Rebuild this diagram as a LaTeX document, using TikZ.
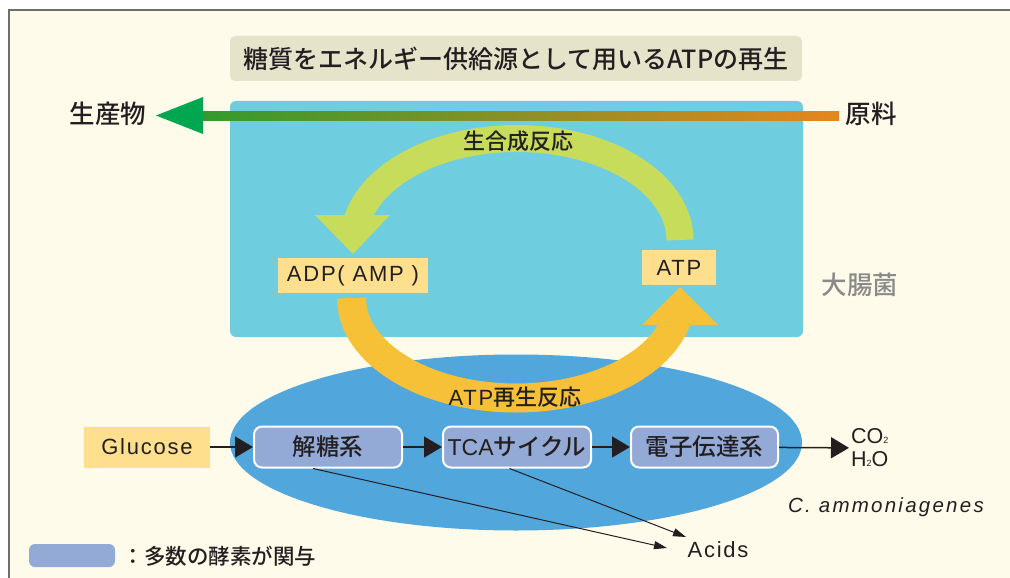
\documentclass[tikz,border=0pt]{standalone}
\usepackage{fontspec}
\setmainfont{Noto Sans CJK JP}[UprightFont={* Medium}]
\newfontfamily\lat[LetterSpace=8]{Liberation Sans}
\newfontfamily\latwide[LetterSpace=11]{Liberation Sans}
\newfontfamily\latplain{Liberation Sans}
\usetikzlibrary{arrows.meta,calc}
\definecolor{ink}{HTML}{231F20}
\definecolor{cream}{HTML}{FEFBEA}
\definecolor{framegray}{HTML}{6D6E71}
\definecolor{titlebg}{HTML}{E6E3CB}
\definecolor{cellblue}{HTML}{6FCDE0}
\definecolor{arcgreen}{HTML}{C8DC5B}
\definecolor{arcorange}{HTML}{F6C136}
\definecolor{ybox}{HTML}{FEDF8E}
\definecolor{ellblue}{HTML}{51A6DB}
\definecolor{enz}{HTML}{93AAD6}
\definecolor{headgreen}{HTML}{00A650}
\definecolor{bargreen}{HTML}{2E9B2E}
\definecolor{baryellow}{HTML}{E2DC00}
\definecolor{barorange}{HTML}{E5861E}
\definecolor{ecgray}{HTML}{8A8A8A}
\tikzset{
  every node/.style={text=ink},
  yellowbox/.style={fill=ybox, inner sep=0pt},
  enzbox/.style={fill=enz, draw=white, line width=2pt, rounded corners=8pt,
    minimum width=148pt, minimum height=41pt, inner sep=0pt,
    font=\fontsize{23.5}{26}\selectfont},
  jp/.style={font=\fontsize{#1}{#1}\selectfont},
  latin/.style={font=\lat\fontsize{#1}{#1}\selectfont},
  flow/.style={line width=1.5pt, draw=ink, -{Triangle[length=18pt,width=21pt]}},
  thin/.style={line width=1pt, draw=ink, -{Triangle[length=13pt,width=8pt]}},
}
\begin{document}
\begin{tikzpicture}[x=1pt,y=-1pt]
\useasboundingbox (0,0) rectangle (1010,578);
\fill[white] (0,0) rectangle (1010,578);
\fill[cream] (9,10) rectangle (1010,578);
\draw[framegray, line width=2pt] (9,578) -- (9,10) -- (1010,10);

% title
\node[fill=titlebg, rounded corners=5pt, minimum width=572pt, minimum height=45pt, inner sep=0pt, jp=25] (title) at (516,58.5) {糖質をエネルギー供給源として用いるATPの再生};

% cell
\fill[cellblue, rounded corners=6pt] (230,101) rectangle (803,337);
\node[jp=25.5, text=ecgray] (ecoli) at (860,285) {大腸菌};

% raw material -> product gradient arrow
\node[jp=25.5, anchor=east] (product) at (150,114) {生産物};
\node[jp=25.5, anchor=west] (raw) at (842,114) {原料};
\shade[left color=bargreen, middle color=baryellow, right color=barorange] (181,111) rectangle (839,120);
\fill[headgreen] (156,115.5) -- (203,97) -- (203,134) -- cycle;

% biosynthesis arc
\draw[arcgreen, line width=27pt] (517,240) ++(0:163 and 101.5)
  arc[start angle=0, end angle=-170, x radius=163, y radius=101.5];
\fill[arcgreen] (315,215) -- (390,215) -- (353,254) -- cycle;
\node[jp=22] (bio) at (518,141) {生合成反応};

% C. ammoniagenes ellipse
\fill[ellblue] (516,442.5) ellipse [x radius=286, y radius=88];

% ATP regeneration arc
\draw[arcorange, line width=29pt] (516,298) ++(180:164.5 and 100)
  arc[start angle=180, end angle=12, x radius=164.5, y radius=100];
\fill[arcorange] (642,325) -- (718,325) -- (680,287) -- cycle;
\node (regen) at (515,397) {{\lat\fontsize{22}{22}\selectfont ATP}{\fontsize{22}{22}\selectfont 再生反応}};

% ADP / ATP
\node[yellowbox, minimum width=150pt, minimum height=35pt, latin=22] (adp) at (353,275.5) {ADP( AMP )};
\node[yellowbox, minimum width=74pt, minimum height=35pt, latin=22] (atp) at (679,267.5) {ATP};

% pathway
\node[yellowbox, minimum width=126pt, minimum height=41pt, latin=22] (glu) at (147,447) {Glucose};
\node[enzbox] (gly) at (328,447) {解糖系};
\node[enzbox] (tca) at (517,447) {{\latplain\fontsize{23}{23}\selectfont TCA}サイクル};
\node[enzbox, minimum width=147pt] (etc) at (704.5,447) {電子伝達系};
\node[anchor=west, inner sep=2pt, align=left, font=\latplain\fontsize{21.5}{23}\selectfont] (out) at (849,448)
  {CO{\fontsize{9}{9}\selectfont 2}\\H{\fontsize{9}{9}\selectfont 2}O};
\draw[flow] (glu) -- (gly);
\draw[flow] (gly) -- (tca);
\draw[flow] (tca) -- (etc);
\draw[flow] (etc) -- (out);

% acids
\node[latin=22] (acids) at (718,550) {Acids};
\coordinate (t1) at (667,548);
\coordinate (t2) at (686,537);
\draw[thin] ($(gly.south west)!0.4!(gly.south east)$) -- (t1);
\draw[thin] ($(tca.south west)!0.45!(tca.south east)$) -- (t2);

\node[font=\latwide\fontsize{20.5}{20.5}\selectfont\itshape] (species) at (886,507) {C. ammoniagenes};

% legend
\node[fill=enz, rounded corners=6pt, minimum width=86pt, minimum height=23pt, inner sep=0pt] (leg) at (72,555.5) {};
\node[anchor=west, jp=21.5] (legtext) at (119,556) {：多数の酵素が関与};
\end{tikzpicture}
\end{document}
